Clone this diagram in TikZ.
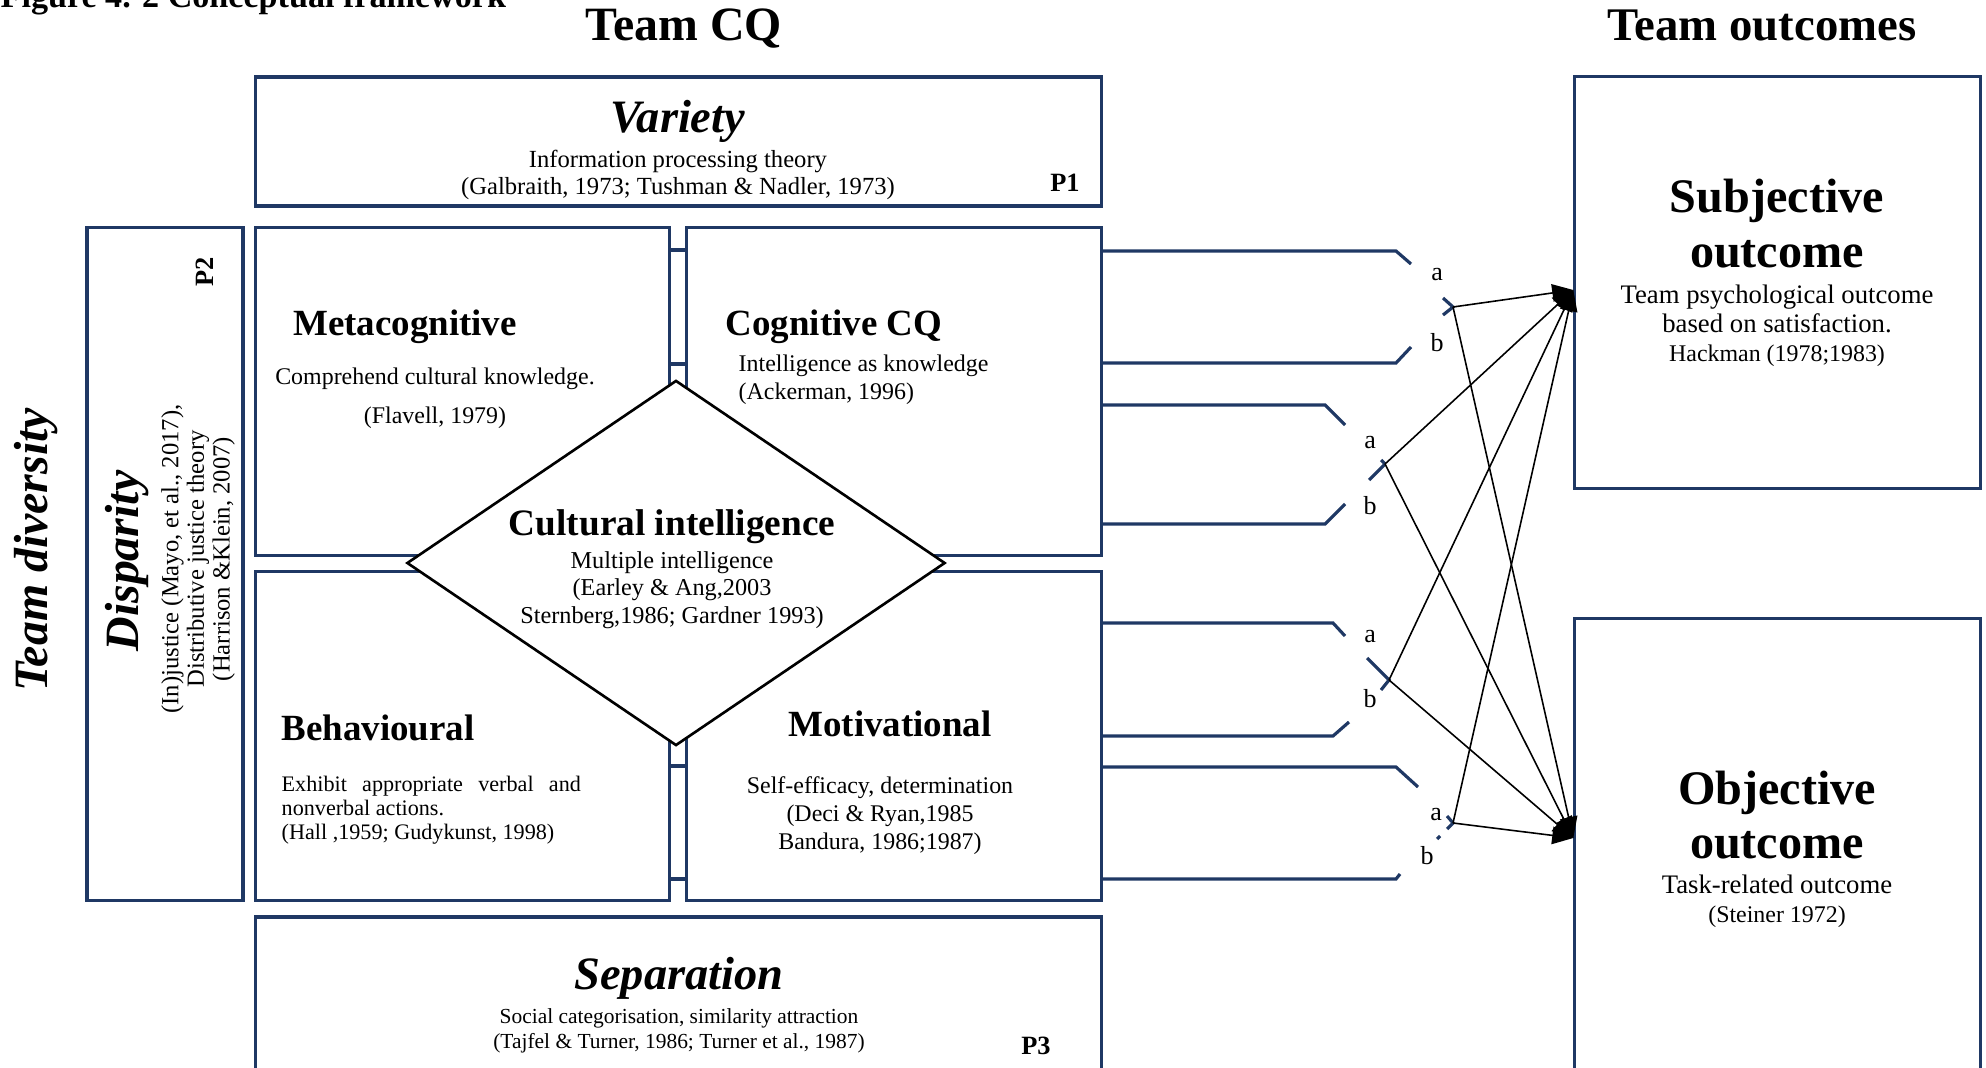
\documentclass[tikz,border=0pt]{standalone}
\usepackage{fontspec}
\setmainfont{Liberation Serif}
\usetikzlibrary{shapes.geometric,arrows.meta}
\definecolor{navy}{RGB}{31,56,100}
\newcommand\fz[2]{\fontsize{#1}{#2}\selectfont}

\begin{document}
\begin{tikzpicture}[x=0.01cm,y=-0.01cm,
  every node/.style={inner sep=0pt},
  box/.style={rectangle, draw=navy, line width=0.9pt, fill=white},
  arm/.style={draw=navy, line width=0.9pt},
  link/.style={draw=black, line width=0.45pt, -{Triangle[length=6pt,width=5pt]}},
  lab/.style={font=\fz{7.4}{8}}]

\useasboundingbox (0,0) rectangle (1986,1067);
\clip (0,0) rectangle (1986,1067);

% caption and column headings
\node[anchor=base west, font=\fz{9.7}{11}\bfseries] (fig) at (0,8) {Figure 4. 2 Conceptual framework};
\node[font=\fz{13.6}{15}\bfseries] (tcq) at (684,29) {Team CQ};
\node[font=\fz{13.3}{15}\bfseries] (tout) at (1762,25) {Team outcomes};

% frames
\node[box, minimum width=8.45cm, minimum height=1.29cm] (var) at (678.5,141.5) {};
\node[box, minimum width=1.56cm, minimum height=6.72cm] (disp) at (165,564) {};
\node[box, minimum width=4.13cm, minimum height=3.27cm] (meta) at (462.5,391.5) {};
\node[box, minimum width=4.14cm, minimum height=3.27cm] (cog) at (894,391.5) {};
\node[box, minimum width=4.13cm, minimum height=3.28cm] (beh) at (462.5,736) {};
\node[box, minimum width=4.14cm, minimum height=3.28cm] (mot) at (894,736) {};
\node[box, minimum width=8.45cm, minimum height=1.83cm] (sep) at (678.5,1008.5) {};
\node[box, minimum width=4.05cm, minimum height=4.11cm] (subj) at (1777.5,282.5) {};
\node[box, minimum width=4.05cm, minimum height=4.91cm] (obj) at (1777.5,864.5) {};

% rungs between the CQ quadrants
\foreach \y in {250,364,766,879}
  \draw[arm] (meta.east |- 0,\y) -- (cog.west |- 0,\y);

% central diamond
\node[diamond, draw=black, line width=0.75pt, fill=white,
      minimum width=5.38cm, minimum height=3.65cm] (ci) at (676,563) {};

% brace-like bundles leaving the CQ block
\draw[arm] (cog.east |- 0,251) -- (1396,251) -- (1411,264);
\draw[arm] (cog.east |- 0,363) -- (1396,363) -- (1411,347);
\draw[arm] (1443,298) -- (1453,307) -- (1443,315);

\draw[arm] (cog.east |- 0,405) -- (1325,405) -- (1345,425);
\draw[arm] (cog.east |- 0,524) -- (1325,524) -- (1345,504);
\draw[arm] (1369,480) -- (1385,464);
\draw[arm] (1381,460) -- (1385,464);

\draw[arm] (mot.east |- 0,623) -- (1333,623) -- (1345,636);
\draw[arm] (mot.east |- 0,736) -- (1333,736) -- (1349,722);
\draw[arm] (1367,658) -- (1389,680) -- (1381,690);

\draw[arm] (mot.east |- 0,767) -- (1396,767) -- (1418,787);
\draw[arm] (mot.east |- 0,879) -- (1396,879) -- (1400,874);
\draw[arm] (1447,816) -- (1453,823) -- (1447,829);
\draw[arm] (1437,839) -- (1440,836);

\node[lab] (a1) at (1437,275) {a};
\node[lab] (b1) at (1437,343) {b};
\node[lab] (a2) at (1370,443) {a};
\node[lab] (b2) at (1370,506) {b};
\node[lab] (a3) at (1370,637) {a};
\node[lab] (b3) at (1370,699) {b};
\node[lab] (a4) at (1436,815) {a};
\node[lab] (b4) at (1427,856) {b};

% links to the outcomes
\coordinate (o1) at (1453,307);
\coordinate (o2) at (1385,464);
\coordinate (o3) at (1389,680);
\coordinate (o4) at (1453,823);
\coordinate (sin) at (subj.west |- 0,290);
\coordinate (oin) at (obj.west |- 0,838);
\foreach \o in {o1,o2,o3,o4} {
  \draw[link] (\o) -- (sin);
  \draw[link] (\o) -- (oin);
}

% texts: Variety
\node[font=\fz{13.2}{15}\bfseries\itshape] (varT) at (678,121) {Variety};
\node[font=\fz{7}{7.7}, align=center] (varB) at (678,175) {Information processing theory\\(Galbraith, 1973; Tushman \& Nadler, 1973)};
\node[font=\fz{7.5}{8}\bfseries] (p1) at (1065,183) {P1};

% texts: Disparity and team diversity
\node[rotate=90, font=\fz{13.6}{15}\bfseries\itshape] (tdiv) at (36,550) {Team diversity};
\node[rotate=90, font=\fz{13.6}{15}\bfseries\itshape] (dispT) at (127,561) {Disparity};
\node[rotate=90, align=center, font=\fz{7}{7.3}] (dispB) at (198,559) {(In)justice (Mayo, et al., 2017),\\Distributive justice theory\\(Harrison \&Klein, 2007)};
\node[rotate=90, font=\fz{7.5}{8}\bfseries] (p2) at (205,272) {P2};

% texts: quadrants
\node[font=\fz{10.5}{12}\bfseries] (metaT) at (405,327) {Metacognitive};
\node[font=\fz{6.8}{8}] (metaB) at (435,379) {Comprehend cultural knowledge.};
\node[font=\fz{6.8}{8}] (metaC) at (435,418) {(Flavell, 1979)};

\node[anchor=west, font=\fz{10.5}{12}\bfseries] (cogT) at (725,327) {Cognitive CQ};
\node[anchor=west, align=left, font=\fz{6.8}{8}] (cogB) at (738,380) {Intelligence as knowledge\\(Ackerman, 1996)};

\node[anchor=west, font=\fz{10.5}{12}\bfseries] (behT) at (281,728) {Behavioural};
\node[anchor=west, text width=2.99cm, align=justify, font=\fz{6.3}{6.8}] (behB) at (281,810.5) {Exhibit appropriate verbal and nonverbal actions.\\(Hall ,1959; Gudykunst, 1998)};

\node[font=\fz{10.5}{12}\bfseries] (motT) at (890,724) {Motivational};
\node[align=center, font=\fz{6.8}{7.9}] (motB) at (880,815.5) {Self-efficacy, determination\\(Deci \& Ryan,1985\\Bandura, 1986;1987)};

% texts: diamond
\node[font=\fz{10.6}{12}\bfseries] (ciT) at (672,527) {Cultural intelligence};
\node[align=center, font=\fz{6.9}{7.8}] (ciB) at (672,590) {Multiple intelligence\\(Earley \& Ang,2003\\Sternberg,1986; Gardner 1993)};

% texts: Separation
\node[font=\fz{13.2}{15}\bfseries\itshape] (sepT) at (679,978) {Separation};
\node[align=center, font=\fz{6.1}{7.1}] (sepB) at (679,1030.5) {Social categorisation, similarity attraction\\(Tajfel \& Turner, 1986; Turner et al., 1987)};
\node[font=\fz{7.5}{8}\bfseries] (p3) at (1036,1046) {P3};

% texts: outcomes
\node[align=center, font=\fz{13.7}{15.6}\bfseries] (subjT) at (1777,224) {Subjective\\outcome};
\node[align=center, font=\fz{7.6}{8.25}] (subjB) at (1777,326) {Team psychological outcome\\based on satisfaction.\\{\fz{6.8}{8.25}Hackman (1978;1983)}};
\node[align=center, font=\fz{13.7}{15.6}\bfseries] (objT) at (1777,815) {Objective\\outcome};
\node[align=center, font=\fz{7.6}{8.25}] (objB) at (1777,901.5) {Task-related outcome\\{\fz{6.8}{8.25}(Steiner 1972)}};

\end{tikzpicture}
\end{document}
